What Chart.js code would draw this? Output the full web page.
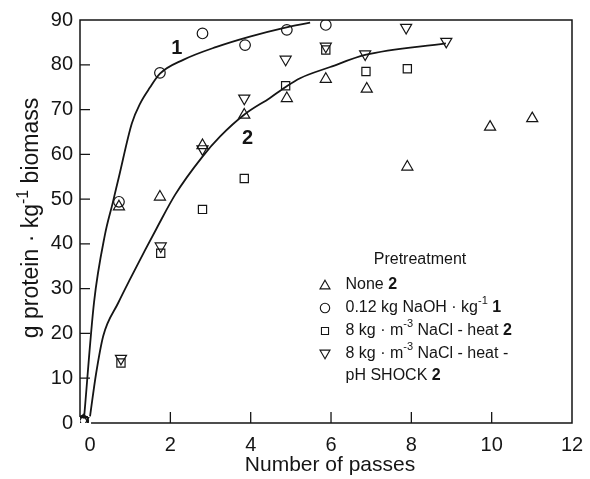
<!DOCTYPE html>
<html>
<head>
<meta charset="utf-8">
<script src="https://cdn.jsdelivr.net/npm/chart.js@4"></script>
<style>
  html, body { margin: 0; padding: 0; background: #fff; }
  canvas { display: block; }
</style>
</head>
<body>
<canvas id="c" width="590" height="479"></canvas>
<script>
// Axis ticks
const xTickValues = [0, 2, 4, 6, 8, 10, 12];
const yTickValues = [0, 10, 20, 30, 40, 50, 60, 70, 80, 90];

// Pretreatment: none (curve 2)
const noneX = [-0.17, 0.72, 1.74, 2.80, 3.84, 4.90, 5.87, 6.89, 7.90, 9.96, 11.01];
const noneY = [0.5, 48.3, 50.5, 62.0, 68.8, 72.5, 76.8, 74.6, 57.2, 66.1, 68.0];

// Pretreatment: 0.12 kg NaOH per kg (curve 1)
const naohX = [-0.17, 0.72, 1.74, 2.80, 3.86, 4.90, 5.87];
const naohY = [0.5, 49.4, 78.2, 87.0, 84.4, 87.8, 88.9];

// Pretreatment: 8 kg/m3 NaCl - heat (curve 2)
const naclX = [-0.17, 0.77, 1.76, 2.80, 3.84, 4.87, 5.87, 6.87, 7.90];
const naclY = [0.5, 13.4, 37.9, 47.7, 54.6, 75.3, 83.3, 78.5, 79.1];

// Pretreatment: 8 kg/m3 NaCl - heat - pH shock (curve 2)
const shockX = [-0.17, 0.77, 1.76, 2.80, 3.84, 4.87, 5.87, 6.85, 7.87, 8.87];
const shockY = [0.5, 14.4, 39.5, 61.2, 72.5, 81.2, 84.1, 82.4, 88.3, 85.2];

// Fitted curve 1
const curve1X = [-0.15, 0.10, 0.37, 0.56, 0.72, 1.04, 1.25, 1.49, 1.74, 2.32, 3.15, 3.98, 4.81, 5.48];
const curve1Y = [1.0, 27.0, 42.0, 49.0, 55.0, 66.9, 71.4, 74.9, 78.0, 81.1, 84.0, 86.3, 88.2, 89.4];

// Fitted curve 2
const curve2X = [0, 0.15, 0.33, 0.70, 1.00, 1.37, 1.66, 2.12, 2.80, 3.24, 3.86, 4.48, 4.86, 5.23, 5.98, 6.85, 8.86];
const curve2Y = [1.5, 11.0, 19.5, 26.8, 32.2, 38.6, 43.5, 51.0, 59.5, 64.0, 69.0, 72.6, 75.0, 77.0, 79.5, 82.2, 84.8];

// Curve label anchors (data coordinates)
const curveLabels = [
  { text: '1', x: 2.16, y: 83.7 },
  { text: '2', x: 3.92, y: 63.6 }
];

const INK = '#151515';
const FONT = "'Liberation Sans', Arial, Helvetica, sans-serif";

const pts = (xs, ys) => xs.map((x, i) => ({ x, y: ys[i] }));

function markerSet(label, xs, ys, style, radius, rotation) {
  return {
    label,
    data: pts(xs, ys),
    showLine: false,
    pointStyle: style,
    pointRadius: radius,
    pointRotation: rotation || 0,
    pointBorderColor: INK,
    pointBackgroundColor: 'rgba(0,0,0,0)',
    pointBorderWidth: 1.2
  };
}

function curveSet(label, xs, ys) {
  return {
    type: 'line',
    label,
    data: pts(xs, ys),
    showLine: true,
    pointRadius: 0,
    borderColor: INK,
    borderWidth: 1.8,
    fill: false,
    cubicInterpolationMode: 'monotone'
  };
}

// Legend rows: marker + rich text segments
const legendRows = [
  { style: 'triangle', rot: 0,   r: 5.8, segs: [{ t: 'None ' }, { t: '2', b: true }] },
  { style: 'circle',   rot: 0,   r: 4.7, segs: [{ t: '0.12 kg NaOH \u00B7 kg' }, { t: '-1', sup: true }, { t: ' ' }, { t: '1', b: true }] },
  { style: 'rect',     rot: 0,   r: 5.0, segs: [{ t: '8 kg \u00B7 m' }, { t: '-3', sup: true }, { t: ' NaCl - heat ' }, { t: '2', b: true }] },
  { style: 'triangle', rot: 180, r: 5.8, segs: [{ t: '8 kg \u00B7 m' }, { t: '-3', sup: true }, { t: ' NaCl - heat -' }] },
  { style: null,       rot: 0,   r: 0,   segs: [{ t: 'pH SHOCK ' }, { t: '2', b: true }] }
];

function drawRich(ctx, segs, x, y, size) {
  let cx = x;
  for (const s of segs) {
    if (s.sup) {
      ctx.font = `${Math.round(size * 0.68)}px ${FONT}`;
      ctx.fillText(s.t, cx, y - size * 0.42);
    } else {
      ctx.font = `${s.b ? 'bold ' : ''}${size}px ${FONT}`;
      ctx.fillText(s.t, cx, y);
    }
    cx += ctx.measureText(s.t).width;
  }
  return cx - x;
}

function measureRich(ctx, segs, size) {
  let w = 0;
  for (const s of segs) {
    ctx.font = s.sup ? `${Math.round(size * 0.68)}px ${FONT}` : `${s.b ? 'bold ' : ''}${size}px ${FONT}`;
    w += ctx.measureText(s.t).width;
  }
  return w;
}

const framePlugin = {
  id: 'frame',
  beforeDatasetsDraw(chart) {
    const { ctx, chartArea: a, scales } = chart;
    const xs = scales.x, ys = scales.y;
    ctx.save();
    ctx.strokeStyle = INK;
    ctx.lineWidth = 1.5;
    ctx.beginPath();
    // left, top, right, bottom (bottom axis begins at x = 0)
    ctx.moveTo(a.left, a.bottom - 6);
    ctx.lineTo(a.left, a.top);
    ctx.lineTo(a.right, a.top);
    ctx.lineTo(a.right, a.bottom);
    ctx.lineTo(xs.getPixelForValue(0) + 1, a.bottom);
    ctx.stroke();
    // inward tick marks
    ctx.lineWidth = 1.3;
    ctx.beginPath();
    for (const v of xTickValues) {
      if (v <= 0 || v >= 12) continue;
      const px = xs.getPixelForValue(v);
      ctx.moveTo(px, a.bottom);
      ctx.lineTo(px, a.bottom - 11);
    }
    for (const v of yTickValues) {
      if (v <= 0 || v >= 90) continue;
      const py = ys.getPixelForValue(v);
      ctx.moveTo(a.left, py);
      ctx.lineTo(a.left + 10, py);
    }
    ctx.stroke();
    ctx.restore();
  },
  afterDraw(chart) {
    const { ctx, scales } = chart;
    const xs = scales.x, ys = scales.y;
    ctx.save();
    ctx.fillStyle = INK;

    // curve labels
    ctx.font = `bold 20px ${FONT}`;
    ctx.textAlign = 'center';
    ctx.textBaseline = 'middle';
    for (const l of curveLabels) {
      ctx.fillText(l.text, xs.getPixelForValue(l.x), ys.getPixelForValue(l.y));
    }

    // x axis title
    ctx.textBaseline = 'alphabetic';
    ctx.font = `21px ${FONT}`;
    ctx.textAlign = 'center';
    ctx.fillText('Number of passes', 330, 471);

    // y axis title (rotated, with superscript)
    const ySegs = [{ t: 'g protein \u00B7 kg' }, { t: '-1', sup: true }, { t: ' biomass' }];
    ctx.textAlign = 'left';
    const yw = measureRich(ctx, ySegs, 23);
    ctx.translate(38, 218);
    ctx.rotate(-Math.PI / 2);
    drawRich(ctx, ySegs, -yw / 2, 0, 23);
    ctx.setTransform(1, 0, 0, 1, 0, 0);

    // legend
    ctx.textAlign = 'center';
    ctx.textBaseline = 'middle';
    ctx.font = `16px ${FONT}`;
    ctx.fillText('Pretreatment', 420, 260);
    ctx.textAlign = 'left';
    const rowY = [285, 308, 331, 354, 376];
    legendRows.forEach((row, i) => {
      const y = rowY[i];
      if (row.style) {
        ctx.strokeStyle = INK;
        ctx.fillStyle = 'rgba(0,0,0,0)';
        ctx.lineWidth = 1.1;
        Chart.helpers.drawPoint(ctx, { pointStyle: row.style, rotation: row.rot, radius: row.r, borderWidth: 1.1 }, 325, y + (row.style === 'triangle' ? (row.rot ? -1 : 1) : 0));
      }
      ctx.fillStyle = INK;
      drawRich(ctx, row.segs, 345.5, y, 16);
    });
    ctx.restore();
  }
};

Chart.defaults.font.family = FONT;
Chart.defaults.color = INK;

new Chart(document.getElementById('c'), {
  type: 'scatter',
  data: {
    datasets: [
      curveSet('Curve 1', curve1X, curve1Y),
      curveSet('Curve 2', curve2X, curve2Y),
      markerSet('None', noneX, noneY, 'triangle', 6.4, 0),
      markerSet('0.12 kg NaOH', naohX, naohY, 'circle', 5.3, 0),
      markerSet('8 kg NaCl - heat', naclX, naclY, 'rect', 5.8, 0),
      markerSet('8 kg NaCl - heat - pH SHOCK', shockX, shockY, 'triangle', 6.4, 180)
    ]
  },
  options: {
    responsive: false,
    animation: false,
    devicePixelRatio: 1,
    layout: { padding: { top: 20, right: 18, bottom: 0, left: 0 } },
    plugins: { legend: { display: false }, tooltip: { enabled: false } },
    scales: {
      x: {
        type: 'linear',
        min: -0.25,
        max: 12,
        grid: { display: false, drawTicks: false },
        border: { display: false },
        afterBuildTicks: s => { s.ticks = xTickValues.map(v => ({ value: v })); },
        afterFit: s => { s.height = 56; s.paddingLeft = 0; s.paddingRight = 0; },
        ticks: { font: { size: 20 }, color: INK, padding: 10, maxRotation: 0, autoSkip: false }
      },
      y: {
        type: 'linear',
        min: 0,
        max: 90,
        grid: { display: false, drawTicks: false },
        border: { display: false },
        afterBuildTicks: s => { s.ticks = yTickValues.map(v => ({ value: v })); },
        afterFit: s => { s.width = 80; s.paddingTop = 0; s.paddingBottom = 0; },
        ticks: { font: { size: 20 }, color: INK, padding: 7, autoSkip: false }
      }
    }
  },
  plugins: [framePlugin]
});
</script>
</body>
</html>
